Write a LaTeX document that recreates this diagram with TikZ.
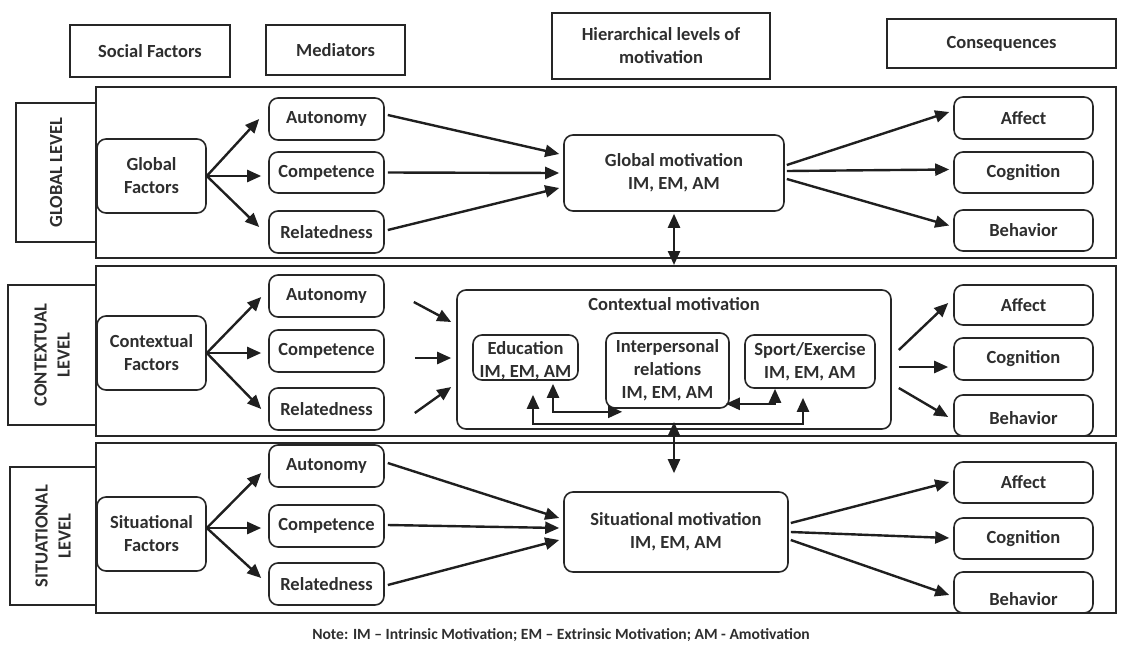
\documentclass[tikz,border=0pt]{standalone}
\usepackage{fontspec}
\setmainfont{Carlito}
\usetikzlibrary{arrows.meta,calc}
\begin{document}
\begin{tikzpicture}[x=1pt,y=-1pt,
  font=\bfseries\fontsize{18.5}{23}\selectfont,
  every node/.style={text=black!82},
  bx/.style n args={4}{minimum width={(#3-#1)*1pt}, minimum height={(#4-#2)*1pt}, at={({(#1+#3)/2},{(#2+#4)/2})}},
  hdr/.style={draw=black!85, line width=1.6pt, inner sep=0pt, align=center},
  bandbox/.style={draw=black!85, line width=2pt, inner sep=0pt},
  rbox/.style={draw=black!85, fill=white, line width=1.6pt, rounded corners=9pt, inner sep=0pt, align=center},
  arr/.style={draw=black!88, line width=2.4pt, -{Triangle[length=14pt,width=12pt]}},
  darr/.style={draw=black!88, line width=2.4pt, {Triangle[length=14pt,width=12pt]}-{Triangle[length=14pt,width=12pt]}},
  lvl/.style={rotate=90, align=center},
]
\useasboundingbox (0,0) rectangle (1121,648);

% headers
\node[hdr, bx={70}{25}{230}{77}] (hsf) {Social Factors};
\node[hdr, bx={266}{25}{405}{75}] (hmed) {Mediators};
\node[hdr, bx={552}{13}{770}{79}] (hhier) {Hierarchical levels of\\motivation};
\node[hdr, bx={887}{19}{1116}{68}] (hcon) {Consequences};

% bands
\node[bandbox, bx={96}{87}{1116}{258}] (gband) {};
\node[bandbox, bx={96}{266}{1116}{436}] (cband) {};
\node[bandbox, bx={96}{443}{1116}{613}] (sband) {};

% level labels
\node[hdr, bx={16}{103}{96}{242}] (glab) {};
\node[lvl] (glabt) at (glab.center) {GLOBAL LEVEL};
\node[hdr, bx={8}{285}{96}{425}] (clab) {};
\node[lvl] (clabt) at (clab.center) {CONTEXTUAL\\LEVEL};
\node[hdr, bx={10}{467}{96}{605}] (slab) {};
\node[lvl] (slabt) at (slab.center) {SITUATIONAL\\LEVEL};

% ===== Global level =====
\node[rbox, bx={97}{139}{206}{213}] (gf) {Global\\Factors};
\node[rbox, bx={269}{98}{384}{140}] (gA) {Autonomy};
\node[rbox, bx={269}{152}{384}{193}] (gC) {Competence};
\node[rbox, bx={269}{211}{384}{253}] (gR) {Relatedness};
\node[rbox, bx={564}{135}{784}{211}] (gm) {Global motivation\\IM, EM, AM};
\node[rbox, bx={954}{97}{1093}{139}] (gAf) {Affect};
\node[rbox, bx={954}{152}{1093}{193}] (gCo) {Cognition};
\node[rbox, bx={954}{210}{1093}{251}] (gBe) {Behavior};

\draw[arr] (gf.east) -- ([xshift=-9pt]gA.west);
\draw[arr] (gf.east) -- ([xshift=-7pt]gC.west |- gf.east);
\draw[arr] (gf.east) -- ([xshift=-9pt,yshift=5pt]gR.west);
\draw[arr] ([xshift=3pt,yshift=4pt]gA.east) -- ([xshift=-4pt,yshift=19pt]gm.west);
\draw[arr] ([xshift=3pt]gC.east) -- ([xshift=-4pt]gm.west);
\draw[arr] ([xshift=3pt,yshift=2pt]gR.east) -- ([xshift=-4pt,yshift=-15pt]gm.west);
\draw[arr] ([xshift=2pt,yshift=8pt]gm.east) -- ([xshift=-4pt,yshift=6pt]gAf.west);
\draw[arr] ([xshift=2pt,yshift=2pt]gm.east) -- ([xshift=-4pt,yshift=3pt]gCo.west);
\draw[arr] ([xshift=2pt,yshift=-6pt]gm.east) -- ([xshift=-4pt,yshift=5pt]gBe.west);

% ===== Contextual level =====
\node[rbox, bx={97}{316}{206}{390}] (cf) {Contextual\\Factors};
\node[rbox, bx={269}{275}{384}{317}] (cA) {Autonomy};
\node[rbox, bx={269}{330}{384}{372}] (cC) {Competence};
\node[rbox, bx={269}{388}{384}{430}] (cR) {Relatedness};
\node[rbox, bx={457}{290}{891}{429}] (cm) {};
\node (cmt) at ($(cm.north)+(0,15)$) {Contextual motivation};
\node[rbox, bx={473}{335}{578}{380}] (ed) {};
\node[align=center] (edt) at ($(ed.center)+(0,3)$) {Education\\IM, EM, AM};
\node[rbox, bx={606}{333}{729}{408}] (ip) {Interpersonal\\relations\\IM, EM, AM};
\node[rbox, bx={745}{335}{875}{388}] (sp) {Sport/Exercise\\IM, EM, AM};
\node[rbox, bx={954}{285}{1093}{325}] (cAf) {Affect};
\node[rbox, bx={954}{338}{1093}{380}] (cCo) {Cognition};
\node[rbox, bx={954}{395}{1093}{436}] (cBe) {};
\node (cBet) at ($(cBe.center)+(0,3)$) {Behavior};

\draw[arr] (cf.east) -- ([xshift=-7pt,yshift=-1pt]cA.west);
\draw[arr] (cf.east) -- ([xshift=-7pt]cC.west |- cf.east);
\draw[arr] (cf.east) -- ([xshift=-7pt]cR.west);
\draw[arr] ([xshift=29pt,yshift=-6pt]cA.east) -- ([xshift=-5pt,yshift=37.5pt]cm.west);
\draw[arr] ([xshift=30pt,yshift=-7pt]cC.east) -- ([xshift=-5pt,yshift=1.5pt]cm.west);
\draw[arr] ([xshift=30pt,yshift=-4pt]cR.east) -- ([xshift=-5pt,yshift=-27.5pt]cm.west);
\draw[arr] ([xshift=7pt,yshift=9.5pt]cm.east) -- ([xshift=-5pt,yshift=2pt]cAf.west);
\draw[arr] ([xshift=7pt,yshift=-7.5pt]cm.east) -- ([xshift=-5pt,yshift=-8pt]cCo.west);
\draw[arr] ([xshift=7pt,yshift=-28.5pt]cm.east) -- ([xshift=-5pt,yshift=-1.5pt]cBe.west);

\coordinate (hub) at (674,424);
\draw[arr] (hub) -| ([xshift=7.5pt,yshift=-14pt]ed.south);
\draw[arr] (hub) -| ([xshift=-7pt,yshift=-9pt]sp.south);
\draw[darr] ([xshift=27.5pt,yshift=-3pt]ed.south) |- ([xshift=17pt,yshift=-3pt]ip.south west);
\draw[darr] ([xshift=-4pt,yshift=5pt]ip.south east) -| ([xshift=-35pt]sp.south);

% ===== Situational level =====
\node[rbox, bx={97}{497}{206}{571}] (sf) {Situational\\Factors};
\node[rbox, bx={269}{445}{384}{487}] (sA) {Autonomy};
\node[rbox, bx={269}{505}{384}{547}] (sC) {Competence};
\node[rbox, bx={269}{563}{384}{605}] (sR) {Relatedness};
\node[rbox, bx={564}{492}{788}{572}] (sm) {Situational motivation\\IM, EM, AM};
\node[rbox, bx={954}{462}{1093}{503}] (sAf) {Affect};
\node[rbox, bx={954}{518}{1093}{559}] (sCo) {Cognition};
\node[rbox, bx={954}{572}{1093}{613}] (sBe) {};
\node (sBet) at ($(sBe.center)+(0,7)$) {Behavior};

\draw[arr] ([yshift=6pt]sf.east) -- ([xshift=-7pt,yshift=-7pt]sA.west);
\draw[arr] ([yshift=6pt]sf.east) -- ([xshift=-7pt,yshift=-2pt]sC.west);
\draw[arr] ([yshift=6pt]sf.east) -- ([xshift=-7pt,yshift=6pt]sR.west);
\draw[arr] ([xshift=3pt,yshift=3pt]sA.east) -- ([xshift=-4pt,yshift=14pt]sm.west);
\draw[arr] ([xshift=3pt,yshift=1pt]sC.east) -- ([xshift=-4pt,yshift=4pt]sm.west);
\draw[arr] ([xshift=3pt,yshift=-1pt]sR.east) -- ([xshift=-4pt,yshift=-8pt]sm.west);
\draw[arr] ([xshift=2pt,yshift=9pt]sm.east) -- ([xshift=-4pt,yshift=0.5pt]sAf.west);
\draw[arr] ([xshift=2pt]sm.east) -- ([xshift=-4pt,yshift=0.5pt]sCo.west);
\draw[arr] ([xshift=2pt,yshift=-8pt]sm.east) -- ([xshift=-4pt,yshift=-2.5pt]sBe.west);

% vertical links between levels
\draw[darr] ([yshift=-2pt]gm.south) -- (gm.south |- cband.north);
\draw[darr] ($(hub)+(0,-2)$) -- ($(hub |- sm.north)+(0,-18)$);

% note
\node[font=\bfseries\fontsize{15.6}{18}\selectfont] (note) at (561,635) {Note: IM -- Intrinsic Motivation; EM -- Extrinsic Motivation; AM - Amotivation};
\end{tikzpicture}
\end{document}
